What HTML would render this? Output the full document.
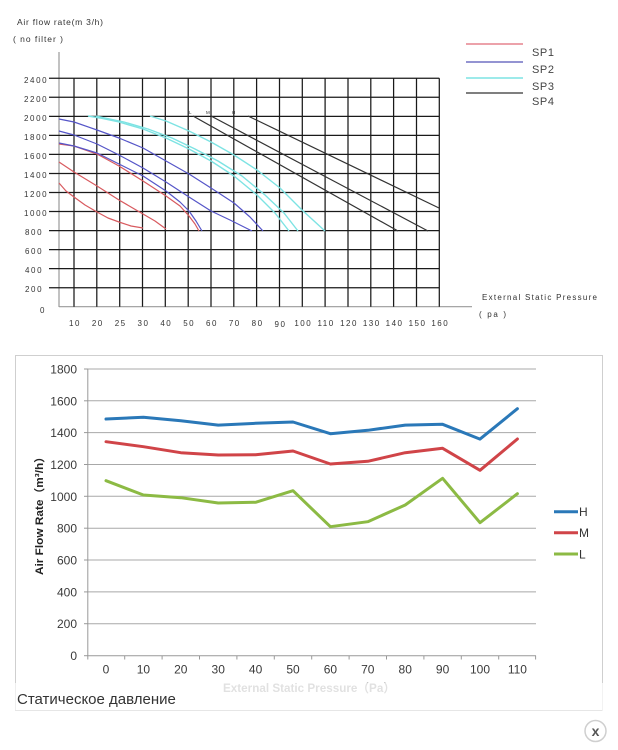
<!DOCTYPE html>
<html><head><meta charset="utf-8"><style>
html,body{margin:0;padding:0;background:#fff;}
svg{display:block;}
</style></head><body>
<svg width="618" height="750" viewBox="0 0 618 750" xmlns="http://www.w3.org/2000/svg" font-family="Liberation Sans, Arial, sans-serif">
<rect width="618" height="750" fill="#fff"/>
<!-- ===== TOP CHART ===== -->
<g fill="#333" font-size="8">
<text x="17" y="25" textLength="86" font-size="8.5">Air flow rate(m 3/h)</text>
<text x="13" y="42" textLength="50" font-size="8.5">( no filter )</text>
</g>
<line x1="59" y1="52" x2="59" y2="307" stroke="#999" stroke-width="1.2"/>
<line x1="59" y1="306.7" x2="472" y2="306.7" stroke="#999" stroke-width="1.2"/>
<g stroke="#1a1a1a" stroke-width="1.25">
<line x1="49" y1="78.3" x2="439.3" y2="78.3"/>
<line x1="49" y1="97.3" x2="439.3" y2="97.3"/>
<line x1="49" y1="116.4" x2="439.3" y2="116.4"/>
<line x1="49" y1="135.4" x2="439.3" y2="135.4"/>
<line x1="49" y1="154.4" x2="439.3" y2="154.4"/>
<line x1="49" y1="173.5" x2="439.3" y2="173.5"/>
<line x1="49" y1="192.5" x2="439.3" y2="192.5"/>
<line x1="49" y1="211.5" x2="439.3" y2="211.5"/>
<line x1="49" y1="230.6" x2="439.3" y2="230.6"/>
<line x1="49" y1="249.6" x2="439.3" y2="249.6"/>
<line x1="49" y1="268.6" x2="439.3" y2="268.6"/>
<line x1="49" y1="287.7" x2="439.3" y2="287.7"/>
</g>
<g stroke="#1a1a1a" stroke-width="1.25">
<line x1="74" y1="78.3" x2="74" y2="306.7"/>
<line x1="96.8" y1="78.3" x2="96.8" y2="306.7"/>
<line x1="119.7" y1="78.3" x2="119.7" y2="306.7"/>
<line x1="142.5" y1="78.3" x2="142.5" y2="306.7"/>
<line x1="165.3" y1="78.3" x2="165.3" y2="306.7"/>
<line x1="188.2" y1="78.3" x2="188.2" y2="306.7"/>
<line x1="211" y1="78.3" x2="211" y2="306.7"/>
<line x1="233.8" y1="78.3" x2="233.8" y2="306.7"/>
<line x1="256.6" y1="78.3" x2="256.6" y2="306.7"/>
<line x1="279.5" y1="78.3" x2="279.5" y2="306.7"/>
<line x1="302.3" y1="78.3" x2="302.3" y2="306.7"/>
<line x1="325.1" y1="78.3" x2="325.1" y2="306.7"/>
<line x1="348" y1="78.3" x2="348" y2="306.7"/>
<line x1="370.8" y1="78.3" x2="370.8" y2="306.7"/>
<line x1="393.6" y1="78.3" x2="393.6" y2="306.7"/>
<line x1="416.5" y1="78.3" x2="416.5" y2="306.7"/>
<line x1="439.3" y1="78.3" x2="439.3" y2="306.7"/>
</g>
<g fill="#333" font-size="8" letter-spacing="1.6">
<text x="24" y="83">2400</text>
<text x="24" y="102">2200</text>
<text x="24" y="121">2000</text>
<text x="24" y="140">1800</text>
<text x="24" y="159">1600</text>
<text x="24" y="178">1400</text>
<text x="24" y="197">1200</text>
<text x="24" y="216">1000</text>
<text x="25" y="235">800</text>
<text x="25" y="254">600</text>
<text x="25" y="273">400</text>
<text x="25" y="292">200</text>
<text x="40" y="313">0</text>
</g>
<g fill="#333" font-size="8" letter-spacing="1.5" text-anchor="middle">
<text x="75" y="326">10</text>
<text x="97.8" y="326">20</text>
<text x="120.7" y="326">25</text>
<text x="143.5" y="326">30</text>
<text x="166.3" y="326">40</text>
<text x="189.2" y="326">50</text>
<text x="212" y="326">60</text>
<text x="234.8" y="326">70</text>
<text x="257.6" y="326">80</text>
<text x="280.5" y="327">90</text>
<text x="303.3" y="326">100</text>
<text x="326.1" y="326">110</text>
<text x="349" y="326">120</text>
<text x="371.8" y="326">130</text>
<text x="394.6" y="326">140</text>
<text x="417.5" y="326">150</text>
<text x="440.3" y="326">160</text>
</g>
<g fill="#333" font-size="8">
<text x="482" y="300" textLength="115">External Static Pressure</text>
<text x="479" y="317" textLength="27">( pa )</text>
</g>
<g fill="none" stroke-width="1.2" stroke-linejoin="round">
<g stroke="#d85a5f">
<polyline points="59,183 66,191 74,197 85,205 97,212 108,218 119,222 131,226 143,228"/>
<polyline points="59,162 74,172 97,186 119,200 143,214 155,221 166,229"/>
<polyline points="59,144 74,146 97,154 119,166 143,181 166,196 180,206 189,216 195,224 199,231"/>
</g>
<g stroke="#5555c8">
<polyline points="59,143 74,146 97,153 119,164 143,176 166,191 180,202 189,211 196,221 202,231"/>
<polyline points="59,131 74,135 97,144 119,155 143,168 166,182 189,197 211,211 230,220 252,231"/>
<polyline points="59,119 74,122 97,130 119,138 143,148 166,161 189,174 211,188 234,203 250,217 263,231"/>
</g>
<g stroke="#7de3e3" stroke-width="1.4">
<polyline points="88,116 100,118 119,122 143,129 166,138 189,149 211,161 234,176 257,195 275,213 289,231"/>
<polyline points="96,116 105,118 124,122 148,129 172,138 195,149 218,161 242,176 265,195 284,213 298,231"/>
<polyline points="150,116 166,121 189,131 211,142 234,155 257,170 280,188 302,210 325,231"/>
</g>
<g stroke="#333">
<line x1="193" y1="116" x2="398" y2="231"/>
<line x1="211" y1="116" x2="428" y2="231"/>
<line x1="248" y1="116" x2="439" y2="208"/>
</g>
</g>
<g fill="#333" font-size="4.5">
<text x="189" y="114">L</text>
<text x="206" y="114">M</text>
<text x="232" y="114">H</text>
</g>
<g stroke-width="1.2">
<line x1="466" y1="44" x2="523" y2="44" stroke="#e06b78"/>
<line x1="466" y1="62" x2="523" y2="62" stroke="#5555b8"/>
<line x1="466" y1="78" x2="523" y2="78" stroke="#7de3e3" stroke-width="1.5"/>
<line x1="466" y1="93" x2="523" y2="93" stroke="#333"/>
</g>
<g fill="#444" font-size="11" letter-spacing="0.6">
<text x="532" y="56">SP1</text>
<text x="532" y="73">SP2</text>
<text x="532" y="90">SP3</text>
<text x="532" y="105">SP4</text>
</g>

<!-- ===== BOTTOM CHART ===== -->
<rect x="15.5" y="355.5" width="587" height="355" fill="#fff" stroke="#cfcfcf" stroke-width="1"/>
<g stroke="#a8a8a8" stroke-width="1">
<line x1="87.3" y1="369" x2="536" y2="369"/>
<line x1="87.3" y1="400.8" x2="536" y2="400.8"/>
<line x1="87.3" y1="432.6" x2="536" y2="432.6"/>
<line x1="87.3" y1="464.5" x2="536" y2="464.5"/>
<line x1="87.3" y1="496.3" x2="536" y2="496.3"/>
<line x1="87.3" y1="528.2" x2="536" y2="528.2"/>
<line x1="87.3" y1="560" x2="536" y2="560"/>
<line x1="87.3" y1="591.9" x2="536" y2="591.9"/>
<line x1="87.3" y1="623.7" x2="536" y2="623.7"/>
</g>
<g stroke="#999" stroke-width="1">
<line x1="87.8" y1="369" x2="87.8" y2="656"/>
<line x1="87.3" y1="655.7" x2="536" y2="655.7"/>
<line x1="84" y1="369" x2="88" y2="369"/>
<line x1="84" y1="400.8" x2="88" y2="400.8"/>
<line x1="84" y1="432.6" x2="88" y2="432.6"/>
<line x1="84" y1="464.5" x2="88" y2="464.5"/>
<line x1="84" y1="496.3" x2="88" y2="496.3"/>
<line x1="84" y1="528.2" x2="88" y2="528.2"/>
<line x1="84" y1="560" x2="88" y2="560"/>
<line x1="84" y1="591.9" x2="88" y2="591.9"/>
<line x1="84" y1="623.7" x2="88" y2="623.7"/>
<line x1="84" y1="655.7" x2="88" y2="655.7"/>
<line x1="87.8" y1="655.7" x2="87.8" y2="659.5"/>
<line x1="124.7" y1="655.7" x2="124.7" y2="659.5"/>
<line x1="162.1" y1="655.7" x2="162.1" y2="659.5"/>
<line x1="199.5" y1="655.7" x2="199.5" y2="659.5"/>
<line x1="236.9" y1="655.7" x2="236.9" y2="659.5"/>
<line x1="274.3" y1="655.7" x2="274.3" y2="659.5"/>
<line x1="311.7" y1="655.7" x2="311.7" y2="659.5"/>
<line x1="349.1" y1="655.7" x2="349.1" y2="659.5"/>
<line x1="386.5" y1="655.7" x2="386.5" y2="659.5"/>
<line x1="423.9" y1="655.7" x2="423.9" y2="659.5"/>
<line x1="461.3" y1="655.7" x2="461.3" y2="659.5"/>
<line x1="498.7" y1="655.7" x2="498.7" y2="659.5"/>
<line x1="535.6" y1="655.7" x2="535.6" y2="659.5"/>
</g>
<g fill="#3a3a3a" font-size="12" text-anchor="end">
<text x="77" y="373.5">1800</text>
<text x="77" y="405.3">1600</text>
<text x="77" y="437.1">1400</text>
<text x="77" y="469">1200</text>
<text x="77" y="500.8">1000</text>
<text x="77" y="532.7">800</text>
<text x="77" y="564.5">600</text>
<text x="77" y="596.4">400</text>
<text x="77" y="628.2">200</text>
<text x="77" y="660.2">0</text>
</g>
<g fill="#3a3a3a" font-size="12" text-anchor="middle">
<text x="106" y="673.5">0</text>
<text x="143.4" y="673.5">10</text>
<text x="180.8" y="673.5">20</text>
<text x="218.2" y="673.5">30</text>
<text x="255.6" y="673.5">40</text>
<text x="293" y="673.5">50</text>
<text x="330.4" y="673.5">60</text>
<text x="367.8" y="673.5">70</text>
<text x="405.2" y="673.5">80</text>
<text x="442.6" y="673.5">90</text>
<text x="480" y="673.5">100</text>
<text x="517.4" y="673.5">110</text>
</g>
<text transform="translate(43,513) rotate(-90)" text-anchor="middle" font-size="11" font-weight="bold" fill="#222" font-family="Liberation Sans, Noto Sans CJK SC, sans-serif" textLength="124" lengthAdjust="spacingAndGlyphs">Air Flow Rate（m³/h）</text>
<g fill="none" stroke-width="3" stroke-linejoin="round" stroke-linecap="round">
<polyline stroke="#2a78b8" points="106,419 143.4,417.3 180.8,420.8 218.2,425.1 255.6,423.3 293,422 330.4,433.7 367.8,430.3 405.2,425.1 442.6,424.3 480,439.1 517.4,408.7"/>
<polyline stroke="#d04448" points="106,441.7 143.4,446.7 180.8,452.7 218.2,455 255.6,454.7 293,451 330.4,464 367.8,461.3 405.2,452.7 442.6,448.3 480,470.3 517.4,439"/>
<polyline stroke="#8cba44" points="106,480.7 143.4,495 180.8,497.7 218.2,503 255.6,502.3 293,490.7 330.4,526.7 367.8,521.7 405.2,505 442.6,478.3 480,522.7 517.4,493.7"/>
</g>
<g stroke-width="3">
<line x1="554" y1="511.7" x2="578" y2="511.7" stroke="#2a78b8"/>
<line x1="554" y1="532.7" x2="578" y2="532.7" stroke="#d04448"/>
<line x1="554" y1="554" x2="578" y2="554" stroke="#8cba44"/>
</g>
<g fill="#333" font-size="12">
<text x="579" y="516">H</text>
<text x="579" y="537">M</text>
<text x="579" y="558.3">L</text>
</g>
<text x="309" y="692" text-anchor="middle" font-size="12" font-weight="bold" fill="#bdbdbd" font-family="Liberation Sans, Noto Sans CJK SC, sans-serif" textLength="172" lengthAdjust="spacingAndGlyphs">External Static Pressure（Pa）</text>
<rect x="15" y="683" width="588" height="28" fill="#fff" fill-opacity="0.55"/>
<line x1="15.5" y1="683" x2="15.5" y2="711" stroke="#eee"/>
<line x1="15" y1="710.5" x2="603" y2="710.5" stroke="#e6e6e6"/>
<line x1="602.5" y1="683" x2="602.5" y2="711" stroke="#f2f2f2"/>
<text x="17" y="704" font-size="15" fill="#333" font-family="Liberation Sans, DejaVu Sans, sans-serif">Статическое давление</text>
<circle cx="595.5" cy="731" r="10.5" fill="#fff" stroke="#cfcfcf" stroke-width="1.5"/>
<text x="595.5" y="736" text-anchor="middle" font-size="14" font-weight="bold" fill="#555">x</text>
</svg>
</body></html>
